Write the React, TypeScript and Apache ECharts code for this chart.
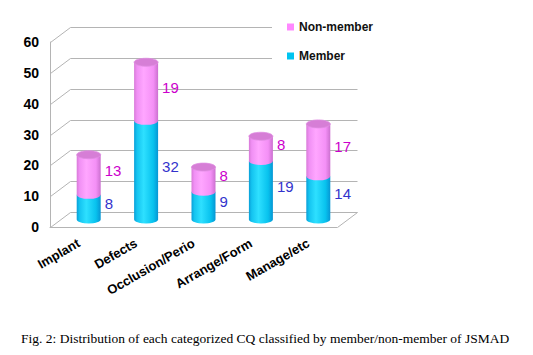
import React, { useEffect, useRef } from "react";
import * as echarts from "echarts";

const categories = ["Implant", "Defects", "Occlusion/Perio", "Arrange/Form", "Manage/etc"];
const memberValues = [8, 32, 9, 19, 14];
const nonMemberValues = [13, 19, 8, 8, 17];
const yTicks = [0, 10, 20, 30, 40, 50, 60];
const caption = "Fig. 2: Distribution of each categorized CQ classified by member/non-member of JSMAD";

const DX = 20;
const DY = -15;
const RX = 12;
const RY = 4;
const GRID = "#b4b4b4";

const px = (v: number) => Math.round(v) + 0.5;

function renderFrame(params: any, api: any) {
  const cs = params.coordSys;
  const v = api.value(1);
  const y = px(api.coord([0, v])[1]);
  const x0 = px(cs.x);
  const x1 = px(cs.x + cs.width);
  const st = { stroke: GRID, lineWidth: 1 };
  const children: any[] = [
    { type: "line", shape: { x1: x0, y1: y, x2: x0 + DX, y2: y + DY }, style: st },
    { type: "line", shape: { x1: x0 + DX, y1: y + DY, x2: x1 + DX, y2: y + DY }, style: st },
  ];
  if (v === 0) {
    children.push({ type: "line", shape: { x1: x1, y1: y, x2: x1 + DX, y2: y + DY }, style: st });
  }
  return { type: "group", children };
}

function makeCylinder(kind: "member" | "non") {
  return (params: any, api: any) => {
    const idx = api.value(0);
    const val = api.value(1);
    const base = api.value(2);
    const top = base + val;
    const cx = api.coord([idx, 0])[0] + DX / 2;
    const yb = api.coord([idx, base])[1] + DY / 2;
    const yt = api.coord([idx, top])[1] + DY / 2;
    const l = cx - RX;
    const r = cx + RX;
    const grad =
      kind === "member"
        ? new echarts.graphic.LinearGradient(0, 0, 1, 0, [
            { offset: 0, color: "#0a9fd8" },
            { offset: 0.12, color: "#14c4f0" },
            { offset: 0.4, color: "#2ee0ff" },
            { offset: 0.8, color: "#08c2ee" },
            { offset: 1, color: "#0696d4" },
          ])
        : new echarts.graphic.LinearGradient(0, 0, 1, 0, [
            { offset: 0, color: "#d87ad8" },
            { offset: 0.12, color: "#f090f4" },
            { offset: 0.4, color: "#ffa6ff" },
            { offset: 0.8, color: "#f490f6" },
            { offset: 1, color: "#cc70d0" },
          ]);
    const children: any[] = [
      {
        type: "path",
        shape: {
          pathData: `M${l} ${yt} L${l} ${yb} A${RX} ${RY} 0 0 0 ${r} ${yb} L${r} ${yt} Z`,
        },
        style: { fill: grad },
      },
    ];
    if (kind === "non") {
      children.push({
        type: "ellipse",
        shape: { cx, cy: yt, rx: RX, ry: RY },
        style: { fill: "#d67ed6", stroke: "#e08ee2", lineWidth: 0.8 },
      });
    }
    children.push({
      type: "text",
      style: {
        text: String(val),
        x: r + 4,
        y: (yt + yb) / 2 - 4,
        fill: kind === "member" ? "#3333cc" : "#cc00cc",
        fontSize: 15,
        fontFamily: "Liberation Sans",
        align: "left",
        verticalAlign: "middle",
      },
    });
    return { type: "group", children };
  };
}

export default function App() {
  const ref = useRef<HTMLDivElement>(null);
  useEffect(() => {
    if (!ref.current) return;
    const chart = echarts.init(ref.current, undefined, { renderer: "svg" });
    const memberData = categories.map((_, i) => [i, memberValues[i], 0]);
    const nonData = categories.map((_, i) => [i, nonMemberValues[i], memberValues[i]]);
    chart.setOption({
      animation: false,
      backgroundColor: "#ffffff",
      title: {
        text: caption,
        left: 16,
        top: 326,
        textStyle: { fontFamily: "Liberation Serif", fontSize: 13.5, fontWeight: "normal", color: "#000" },
      },
      legend: {
        orient: "vertical",
        left: 272,
        top: 16,
        padding: [5, 6, 6, 15],
        backgroundColor: "#ffffff",
        itemWidth: 7,
        itemHeight: 7,
        itemGap: 17,
        icon: "rect",
        data: ["Non-member", "Member"],
        textStyle: { fontFamily: "Liberation Sans", fontSize: 12, fontWeight: "bold", color: "#111" },
        z: 10,
      },
      grid: { left: 50, top: 42, width: 287, height: 185 },
      xAxis: {
        type: "category",
        data: categories,
        axisLine: { show: true, lineStyle: { color: GRID } },
        axisTick: { show: false },
        axisLabel: {
          rotate: 30,
          margin: 15,
          interval: 0,
          fontFamily: "Liberation Sans",
          fontSize: 13,
          fontWeight: "bold",
          color: "#000",
        },
      },
      yAxis: {
        type: "value",
        min: 0,
        max: 60,
        interval: 10,
        axisLine: { show: true, lineStyle: { color: GRID } },
        axisTick: { show: false },
        splitLine: { show: false },
        axisLabel: { margin: 11, fontFamily: "Liberation Sans", fontSize: 14, fontWeight: "bold", color: "#000" },
      },
      series: [
        {
          type: "custom",
          name: "frame",
          renderItem: renderFrame,
          data: yTicks.map((v) => [0, v]),
          encode: { x: 0, y: 1 },
          clip: false,
          silent: true,
          z: 1,
        },
        {
          type: "custom",
          name: "Member",
          renderItem: makeCylinder("member"),
          data: memberData,
          encode: { x: 0, y: 1 },
          itemStyle: { color: "#00c4f0" },
          clip: false,
          z: 2,
        },
        {
          type: "custom",
          name: "Non-member",
          renderItem: makeCylinder("non"),
          data: nonData,
          encode: { x: 0, y: 1 },
          itemStyle: { color: "#ff88ff" },
          clip: false,
          z: 3,
        },
      ],
    });
    return () => chart.dispose();
  }, []);
  return (
    <div
      ref={ref}
      style={{ position: "fixed", left: 0, top: 0, width: 533, height: 355, background: "#fff" }}
    />
  );
}
